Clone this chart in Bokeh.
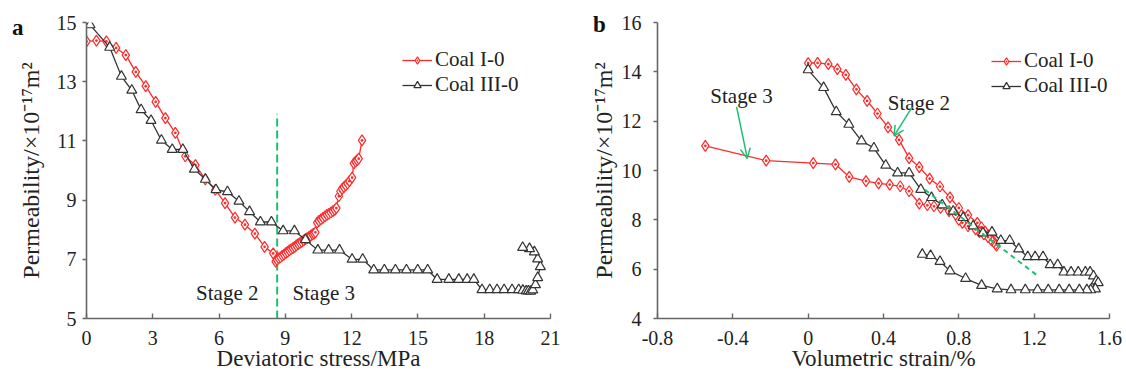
from bokeh.plotting import figure
from bokeh.layouts import row
from bokeh.models import FixedTicker, Arrow, OpenHead, Div
from bokeh.core.properties import value
from bokeh.embed import file_html
from bokeh.resources import INLINE

# ---------------- data: panel a (deviatoric stress vs permeability) ----------------
a_coal1_stress = [0.0, 0.45, 0.9, 1.34, 1.78, 2.23, 2.68, 3.13, 3.57, 4.02, 4.47, 4.93, 5.38, 5.83,
                  6.27, 6.72, 7.17, 7.62, 8.06, 8.45, 8.56,
                  8.62, 8.70, 8.78, 8.86, 8.94, 9.02, 9.10, 9.18, 9.26, 9.34, 9.42, 9.50, 9.58, 9.66,
                  9.74, 9.83, 9.91, 9.99, 10.07, 10.15, 10.23, 10.30, 10.36, 10.44, 10.52, 10.61,
                  10.70, 10.79, 10.88, 10.97, 11.06, 11.15, 11.24, 11.31, 11.42, 11.49, 11.57, 11.65,
                  11.73, 11.82, 11.90, 12.02, 12.10, 12.18, 12.25, 12.32, 12.47]
a_coal1_perm = [14.36, 14.39, 14.36, 14.14, 13.90, 13.33, 12.85, 12.32, 11.77, 11.27, 10.48, 10.18, 9.70, 9.35,
                8.90, 8.41, 8.17, 7.87, 7.42, 7.20, 6.92,
                6.98, 7.03, 7.07, 7.12, 7.16, 7.21, 7.25, 7.30, 7.34, 7.38, 7.42, 7.47, 7.51, 7.55,
                7.59, 7.64, 7.68, 7.72, 7.76, 7.80, 7.84, 7.87, 7.91, 8.24, 8.30, 8.35,
                8.40, 8.45, 8.50, 8.54, 8.58, 8.63, 8.67, 8.73, 9.13, 9.30, 9.38, 9.44,
                9.50, 9.56, 9.64, 9.76, 10.24, 10.30, 10.35, 10.40, 11.02]

a_coal3_stress = [0.16, 1.05, 1.58, 2.05, 2.47, 2.92, 3.39, 3.88, 4.36, 4.88, 5.38, 5.86, 6.38, 6.90,
                  7.38, 7.87, 8.37, 8.90, 9.41, 9.91, 10.47, 10.96, 11.45, 12.02, 12.50, 13.00, 13.48,
                  13.98, 14.48, 14.99, 15.44, 15.87, 16.40, 16.85, 17.23, 17.53, 17.90, 18.25, 18.58,
                  18.90, 19.26, 19.56, 19.75, 19.90, 20.00, 20.10, 20.20, 20.32, 20.42, 20.54, 20.42,
                  20.27, 20.05, 19.74]
a_coal3_perm = [14.92, 14.16, 13.18, 12.71, 12.05, 11.69, 11.02, 10.71, 10.71, 10.04, 9.70, 9.35, 9.28, 8.96,
                8.61, 8.26, 8.26, 7.96, 7.96, 7.66, 7.31, 7.31, 7.31, 7.00, 7.00, 6.64, 6.64,
                6.64, 6.64, 6.64, 6.64, 6.32, 6.32, 6.32, 6.32, 6.32, 5.97, 5.97, 5.97,
                5.97, 5.97, 5.97, 5.95, 5.93, 5.93, 5.92, 5.96, 6.14, 6.38, 6.75, 7.01,
                7.25, 7.36, 7.40]

# ---------------- data: panel b (volumetric strain vs permeability) ----------------
b_coal1_strain = [0.0, 0.05, 0.107, 0.155, 0.20, 0.256, 0.313, 0.368, 0.424, 0.483, 0.536, 0.59, 0.645,
                  0.70, 0.753, 0.80, 0.849, 0.898, 0.92, 0.94, 0.955, 0.968, 0.978, 0.988, 1.0,
                  0.995, 0.985, 0.975, 0.969, 0.955, 0.933, 0.91, 0.889, 0.849, 0.819, 0.80, 0.783,
                  0.748, 0.703, 0.668, 0.633, 0.59, 0.536, 0.489, 0.433, 0.374, 0.307, 0.218, 0.145,
                  0.027, -0.223, -0.546]
b_coal1_perm = [14.35, 14.36, 14.31, 14.11, 13.88, 13.29, 12.82, 12.31, 11.75, 11.24, 10.50, 10.14, 9.67,
                9.35, 8.91, 8.48, 8.19, 7.88, 7.70, 7.52, 7.38, 7.27, 7.18, 7.08, 6.95,
                7.01, 7.10, 7.17, 7.21, 7.30, 7.41, 7.50, 7.61, 7.74, 7.88, 8.00, 8.21,
                8.35, 8.48, 8.55, 8.59, 8.66, 9.16, 9.36, 9.43, 9.48, 9.57, 9.74, 10.25,
                10.30, 10.40, 11.00]

b_coal3_strain = [0.0, 0.082, 0.149, 0.216, 0.283, 0.349, 0.412, 0.475, 0.536, 0.598, 0.655, 0.712, 0.77,
                  0.823, 0.876, 0.928, 0.976, 1.023, 1.07, 1.118, 1.166, 1.205, 1.247, 1.285, 1.325,
                  1.358, 1.396, 1.434, 1.472, 1.497, 1.515, 1.53, 1.54, 1.525, 1.50, 1.48, 1.44, 1.386,
                  1.333, 1.275, 1.218, 1.153, 1.077, 1.004, 0.921, 0.836, 0.753, 0.70, 0.65, 0.606]
b_coal3_perm = [14.08, 13.36, 12.38, 11.87, 11.20, 10.91, 10.21, 9.90, 9.90, 9.23, 8.90, 8.60, 8.35,
                8.09, 7.75, 7.47, 7.50, 7.16, 7.16, 6.82, 6.50, 6.50, 6.50, 6.18, 6.18,
                5.88, 5.88, 5.88, 5.88, 5.88, 5.72, 5.52, 5.45, 5.20, 5.16, 5.16, 5.16, 5.16,
                5.16, 5.16, 5.16, 5.16, 5.16, 5.20, 5.34, 5.62, 5.93, 6.31, 6.55, 6.60]

# annotations
a_boundary_x = [8.63, 8.63]
a_boundary_y = [5.0, 11.92]
a_stage_x = [6.37, 10.74]
a_stage_y = [5.86, 5.86]
a_stage_text = ["Stage 2", "Stage 3"]

b_trend_x = [0.62, 1.226]
b_trend_y = [9.22, 5.69]
b_stage_x = [-0.354, 0.588]
b_stage_y = [13.02, 12.74]
b_stage_text = ["Stage 3", "Stage 2"]
b_arrow_start = [(-0.38, 12.58), (0.553, 12.58)]
b_arrow_end = [(-0.323, 10.49), (0.456, 11.40)]

a_xticks = [0, 3, 6, 9, 12, 15, 18, 21]
a_yticks = [5, 7, 9, 11, 13, 15]
b_xticks = [-0.8, -0.4, 0, 0.4, 0.8, 1.2, 1.6]
b_xlabels = ["-0.8", "-0.4", "0", "0.4", "0.8", "1.2", "1.6"]
b_yticks = [4, 6, 8, 10, 12, 14, 16]

panel_letters = ["a", "b"]

FONT = "Liberation Serif"
RED = "#ff2a2a"
BLACK = "#333333"
GREEN = "#1dbf73"
AXIS = "#666666"
YTITLE = "Permeability/\u00d710\u207b\u00b9\u2077m\u00b2"


def style(p, xticks, yticks):
    p.xgrid.visible = False
    p.ygrid.visible = False
    p.outline_line_color = None
    p.xaxis.ticker = FixedTicker(ticks=xticks)
    p.yaxis.ticker = FixedTicker(ticks=yticks)
    for ax in (p.xaxis[0], p.yaxis[0]):
        ax.axis_line_color = AXIS
        ax.axis_line_width = 1.6
        ax.major_tick_line_color = AXIS
        ax.major_tick_line_width = 1.4
        ax.minor_tick_line_color = None
        ax.major_label_text_font = FONT
        ax.major_label_text_font_size = "20px"
        ax.major_label_text_color = "#222222"
        ax.axis_label_text_font = FONT
        ax.axis_label_text_font_style = "normal"
        ax.axis_label_text_color = "#222222"
    p.xaxis.axis_label_text_font_size = "23px"
    p.yaxis.axis_label_text_font_size = "24px"
    p.xaxis.major_tick_in = 5
    p.xaxis.major_tick_out = 0
    p.xaxis.major_label_standoff = 12
    p.xaxis.axis_label_standoff = -2
    p.yaxis.major_tick_in = 0
    p.yaxis.major_tick_out = 4
    p.background_fill_color = "white"
    p.border_fill_color = "white"


def legend_style(p, loc, spacing):
    lg = p.legend[0]
    lg.border_line_color = None
    lg.background_fill_alpha = 0
    lg.label_text_font = FONT
    lg.label_text_font_size = "21px"
    lg.label_text_color = "#222222"
    lg.glyph_width = 30
    lg.glyph_height = 18
    lg.label_height = 18
    lg.label_standoff = 3
    try:
        lg.spacing = spacing
        lg.location = loc
    except ValueError:
        lg.spacing = 0
        lg.location = (loc[0], loc[1] - 4)
    lg.padding = 0
    lg.margin = 0


# ---------------- panel a ----------------
pa = figure(width=560, height=376, x_range=(0, 21), y_range=(5, 15),
            output_backend="svg", toolbar_location=None,
            min_border_left=86, min_border_right=10, min_border_top=22, min_border_bottom=55)
style(pa, a_xticks, a_yticks)
pa.xaxis.axis_label = "Deviatoric stress/MPa"
pa.yaxis.axis_label = YTITLE
pa.yaxis.major_label_standoff = 6
pa.yaxis.axis_label_standoff = 10

pa.line(a_boundary_x, a_boundary_y, line_color=GREEN, line_width=2, line_dash="8 4")
pa.line(a_coal1_stress, a_coal1_perm, line_color=RED, line_width=1.3, legend_label="Coal I-0")
pa.scatter(a_coal1_stress, a_coal1_perm, marker="diamond_dot", size=11, line_color=RED,
           fill_color="white", line_width=1.2, legend_label="Coal I-0")
pa.line(a_coal3_stress, a_coal3_perm, line_color=BLACK, line_width=1.3, legend_label="Coal III-0")
pa.scatter(a_coal3_stress, a_coal3_perm, marker="triangle", size=10, line_color=BLACK,
           fill_color="white", line_width=1.2, legend_label="Coal III-0")
pa.text(a_stage_x, a_stage_y, text=a_stage_text, text_font=value(FONT), text_font_size="21px",
        text_align="center", text_baseline="middle", text_color="#222222")
legend_style(pa, (316, 221), -4)

# ---------------- panel b ----------------
pb = figure(width=566, height=376, x_range=(-0.8, 1.6), y_range=(4, 16),
            output_backend="svg", toolbar_location=None,
            min_border_left=97, min_border_right=17, min_border_top=20, min_border_bottom=58)
style(pb, b_xticks, b_yticks)
pb.xaxis.major_label_overrides = {t: s for t, s in zip(b_xticks, b_xlabels)}
pb.xaxis.axis_label = "Volumetric strain/%"
pb.yaxis.axis_label = YTITLE
pb.yaxis.major_label_standoff = 12
pb.yaxis.axis_label_standoff = 2

pb.line(b_coal1_strain, b_coal1_perm, line_color=RED, line_width=1.3, legend_label="Coal I-0")
pb.scatter(b_coal1_strain, b_coal1_perm, marker="diamond_dot", size=11, line_color=RED,
           fill_color="white", line_width=1.2, legend_label="Coal I-0")
pb.line(b_coal3_strain, b_coal3_perm, line_color=BLACK, line_width=1.3, legend_label="Coal III-0")
pb.scatter(b_coal3_strain, b_coal3_perm, marker="triangle", size=10, line_color=BLACK,
           fill_color="white", line_width=1.2, legend_label="Coal III-0")
pb.line(b_trend_x, b_trend_y, line_color=GREEN, line_width=2, line_dash="5 4")
for (xs, ys), (xe, ye) in zip(b_arrow_start, b_arrow_end):
    pb.add_layout(Arrow(end=OpenHead(size=10, line_color=GREEN, line_width=1.5),
                        x_start=xs, y_start=ys, x_end=xe, y_end=ye,
                        line_color=GREEN, line_width=1.5))
pb.text(b_stage_x, b_stage_y, text=b_stage_text, text_font=value(FONT), text_font_size="21px",
        text_align="center", text_baseline="middle", text_color="#222222")
legend_style(pb, (334, 220), -3)


def letter_div(txt, left, top):
    return Div(text=txt, width=20, height=30,
               styles={"position": "absolute", "left": f"{left}px", "top": f"{top}px",
                       "font-family": FONT, "font-size": "23px", "font-weight": "bold",
                       "color": "#111111", "line-height": "1", "margin": "0", "padding": "0"})


div_a = letter_div(panel_letters[0], 12, 16)
div_b = letter_div(panel_letters[1], 593, 13)

layout = row(pa, pb, div_a, div_b)
open("out.html", "w").write(file_html(layout, INLINE))
